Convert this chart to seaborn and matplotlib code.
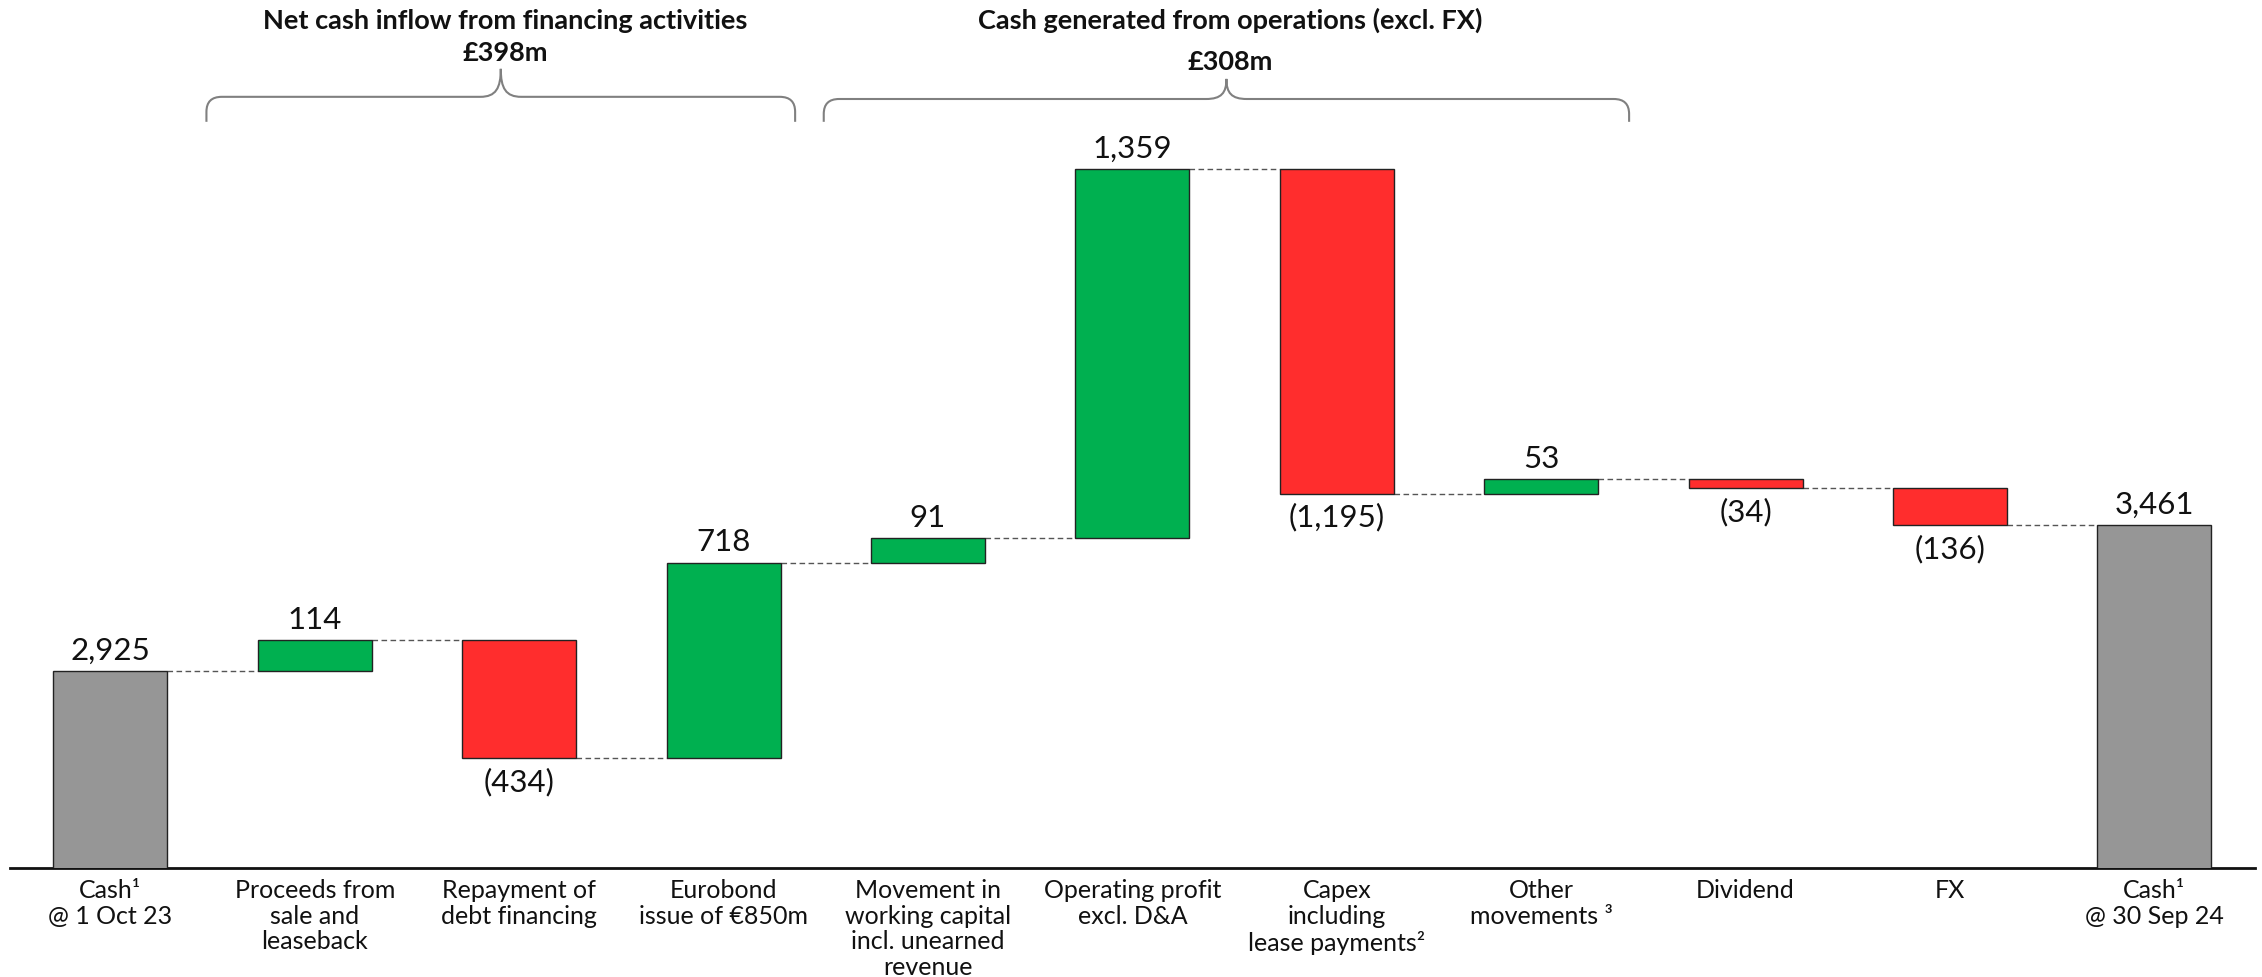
import numpy as np
import pandas as pd
import matplotlib
matplotlib.use("Agg")
import matplotlib.pyplot as plt
from matplotlib.path import Path
from matplotlib.patches import PathPatch
import seaborn as sns

# ---- data -------------------------------------------------------------
categories = [
    "Cash¹\n@ 1 Oct 23",
    "Proceeds from\nsale and\nleaseback",
    "Repayment of\ndebt financing",
    "Eurobond\nissue of €850m",
    "Movement in\nworking capital\nincl. unearned\nrevenue",
    "Operating profit\nexcl. D&A",
    "Capex\nincluding\nlease payments²",
    "Other\nmovements ³",
    "Dividend",
    "FX",
    "Cash¹\n@ 30 Sep 24",
]
values = [2925, 114, -434, 718, 91, 1359, -1195, 53, -34, -136, 3461]
is_total = [True, False, False, False, False, False, False, False, False, False, True]

group_titles = ["Net cash inflow from financing activities", "Cash generated from operations (excl. FX)"]
group_amounts = ["£398m", "£308m"]
group_spans = [(1, 3), (4, 7)]  # first and last category index under each brace

# ---- styling ----------------------------------------------------------
GREEN = "#00B050"
RED = "#FF2D2D"
GREY = "#969696"
BAR_W = 0.558
Y_MIN, Y_MAX = 2200, 5398

sns.set_theme(style="white")
plt.rcParams["font.family"] = ["Lato", "DejaVu Sans"]

# ---- waterfall geometry ----------------------------------------------
bottoms, heights, levels, colors = [], [], [], []
running = 0
for v, tot in zip(values, is_total):
    if tot:
        bottoms.append(0)
        heights.append(v)
        running = v
        colors.append(GREY)
    else:
        bottoms.append(running)
        heights.append(v)
        running += v
        colors.append(GREEN if v > 0 else RED)
    levels.append(running)

df = pd.DataFrame({"category": categories, "height": heights})

fig = plt.figure(figsize=(22.62, 9.78), dpi=100)
ax = fig.add_axes([10 / 2262, 1 - 869 / 978, (2255 - 10) / 2262, 869 / 978])

sns.barplot(data=df, x="category", y="height", bottom=np.array(bottoms),
            width=BAR_W, color=GREY, edgecolor="#222222", linewidth=1.0,
            errorbar=None, ax=ax, zorder=3)
for patch, c in zip(ax.patches, colors):
    patch.set_facecolor(c)

ax.set_xlim(-0.491, len(categories) - 1 + 0.492)
ax.set_ylim(Y_MIN, Y_MAX)

# dashed connectors between consecutive bars
for i in range(len(categories) - 1):
    ax.plot([i + BAR_W / 2, i + 1 - BAR_W / 2], [levels[i], levels[i]],
            color="#555555", lw=1.0, ls=(0, (4, 2.5)), zorder=2)

# value labels
for i, (v, tot) in enumerate(zip(values, is_total)):
    top = max(bottoms[i], bottoms[i] + heights[i]) if not tot else v
    low = min(bottoms[i], bottoms[i] + heights[i])
    if v >= 0:
        ax.annotate(f"{v:,}", (i, top), xytext=(0, 9), textcoords="offset points",
                    ha="center", va="baseline", fontsize=22.5, color="#111111")
    else:
        ax.annotate(f"({abs(v):,})", (i, low), xytext=(0, -6), textcoords="offset points",
                    ha="center", va="top", fontsize=22.5, color="#111111")

# axes cosmetics
for s in ["top", "left", "right"]:
    ax.spines[s].set_visible(False)
ax.spines["bottom"].set_color("#111111")
ax.spines["bottom"].set_linewidth(2.0)
ax.set_yticks([])
ax.set_xlabel("")
ax.set_ylabel("")
ax.tick_params(axis="x", length=0, pad=7, labelsize=18, colors="#111111")
for t in ax.get_xticklabels():
    t.set_linespacing(1.15)


def draw_brace(x0, x1, y_line, y_end, y_tip, rx=0.075, ry=55):
    xc = (x0 + x1) / 2
    cx = 0.10
    verts = [
        (x0, y_end), (x0, y_line - ry),
        (x0, y_line), (x0 + rx, y_line),
        (xc - cx, y_line),
        (xc - cx * 0.25, y_line), (xc, y_line + (y_tip - y_line) * 0.3), (xc, y_tip),
        (xc, y_line + (y_tip - y_line) * 0.3), (xc + cx * 0.25, y_line), (xc + cx, y_line),
        (x1 - rx, y_line),
        (x1, y_line), (x1, y_line - ry),
        (x1, y_end),
    ]
    codes = [Path.MOVETO, Path.LINETO,
             Path.CURVE3, Path.CURVE3,
             Path.LINETO,
             Path.CURVE4, Path.CURVE4, Path.CURVE4,
             Path.CURVE4, Path.CURVE4, Path.CURVE4,
             Path.LINETO,
             Path.CURVE3, Path.CURVE3,
             Path.LINETO]
    ax.add_patch(PathPatch(Path(verts, codes), fill=False, edgecolor="#808080",
                           lw=1.5, clip_on=False, zorder=4))
    return xc


brace_pad = [(0.53, 0.35), (0.51, 0.43)]
brace_y = [(5038, 4946, 5141), (5030, 4946, 5104)]
title_y = [(5319, 5203), (5325, 5170)]
for (a, b), (pl, pr), title, amount, (yl, ye, yt), (ty, ay) in zip(
        group_spans, brace_pad, group_titles, group_amounts, brace_y, title_y):
    xc = draw_brace(a - pl, b + pr, yl, ye, yt)
    ax.text(xc + 0.02, ty, title, ha="center", va="center", fontsize=19.5,
            fontweight="bold", color="#111111", clip_on=False)
    ax.text(xc + 0.02, ay, amount, ha="center", va="center", fontsize=19.5,
            fontweight="bold", color="#111111", clip_on=False)

fig.savefig("out.png", dpi=100, facecolor="white")
